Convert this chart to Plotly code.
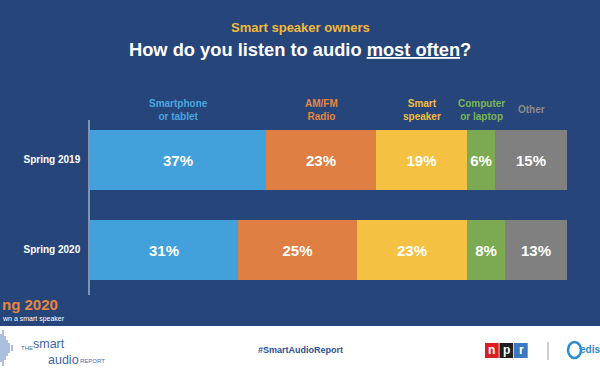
import plotly.graph_objects as go

periods = ["Spring 2019", "Spring 2020"]
categories = ["Smartphone<br>or tablet", "AM/FM<br>Radio", "Smart<br>speaker", "Computer<br>or laptop", "Other"]
values = {
    "Smartphone<br>or tablet": [37, 31],
    "AM/FM<br>Radio": [23, 25],
    "Smart<br>speaker": [19, 23],
    "Computer<br>or laptop": [6, 8],
    "Other": [15, 13],
}
colors = ["#42A0DA", "#E07F43", "#F5C142", "#7CAA52", "#808080"]
header_colors = ["#4AA6E0", "#E8853F", "#F5BE3A", "#7DB653", "#8C8C8C"]

BG = "#26457A"
W, H = 600, 372
FONT = "Liberation Sans, Arial"

def py(px):
    return 1 - px / H

def pxx(px):
    return px / W

fig = go.Figure()
for cat, col in zip(categories, colors):
    vals = values[cat]
    fig.add_trace(go.Bar(
        y=[0, 1], x=vals, orientation="h", width=0.667,
        marker=dict(color=col, line=dict(width=0)),
        text=[f"{v}%" for v in vals], textposition="inside",
        insidetextanchor="middle", textangle=0,
        textfont=dict(family=FONT, size=15, color="white", weight="bold"),
        hoverinfo="skip", showlegend=False,
    ))

def note(xp, yp, text, size, color, xanchor="center"):
    return dict(x=pxx(xp), y=py(yp), xref="paper", yref="paper", text=text,
                showarrow=False, xanchor=xanchor, yanchor="middle",
                font=dict(family=FONT, size=size, color=color))

annotations = []
cum = 0
for cat, hc in zip(categories, header_colors):
    v = values[cat][0]
    annotations.append(dict(
        x=cum + v / 2, xref="x", y=py(110), yref="paper",
        text=f"<b>{cat}</b>", showarrow=False, xanchor="center", yanchor="middle",
        font=dict(family=FONT, size=10, color=hc),
    ))
    cum += v

annotations += [
    note(300, 27, "<b>Smart speaker owners</b>", 13, "#F2B93B"),
    note(300, 49, '<b>How do you listen to audio <span style="text-decoration:underline">most often</span>?</b>',
         18.3, "white"),
    note(0, 304, "<b>ng 2020</b>", 15, "#E8853F", "left"),
    note(0, 319, "wn a smart speaker", 7, "white", "left"),
    note(300, 350, "<b>#SmartAudioReport</b>", 9, "#2D5190"),
    note(19, 348, "THE", 6, "#4A6FAE", "left"),
    note(31, 343.5, "smart", 12.5, "#3F67A8", "left"),
    note(46, 360, "audio", 12.5, "#3F67A8", "left"),
    note(78, 361, "REPORT", 6, "#4A6FAE", "left"),
    note(578, 349, "<b>edis</b>", 10, "#2D8BD0", "left"),
]
for i, letter in enumerate(["n", "p", "r"]):
    annotations.append(note(485 + 14.5 * i + 7, 350, f"<b>{letter}</b>", 12, "white"))

shapes = [
    dict(type="rect", xref="paper", yref="paper", x0=0, x1=1, y0=0, y1=py(326),
         fillcolor="white", line=dict(width=0), layer="below"),
    dict(type="line", xref="paper", yref="paper", x0=pxx(548), x1=pxx(548), y0=py(342), y1=py(360),
         line=dict(color="#9AA0A8", width=1)),
    dict(type="circle", xref="paper", yref="paper", x0=pxx(568), x1=pxx(581), y0=py(358), y1=py(342),
         line=dict(color="#2D8BD0", width=2.5)),
]
for i, c in enumerate(["#D62021", "#231F20", "#3A78C0"]):
    shapes.append(dict(type="rect", xref="paper", yref="paper",
                       x0=pxx(485 + 14.5 * i), x1=pxx(485 + 14.5 * (i + 1) - 0.8),
                       y0=py(358), y1=py(343), fillcolor=c, line=dict(width=0), layer="above"))
for xp, h in [(1, 14), (3, 18), (5, 12), (7, 8), (9, 5), (12, 3)]:
    shapes.append(dict(type="line", xref="paper", yref="paper", x0=pxx(xp), x1=pxx(xp),
                       y0=py(348 - h), y1=py(348 + h), line=dict(color="#5A7FBE", width=1)))

fig.update_layout(
    barmode="stack", bargap=0,
    width=W, height=H, margin=dict(l=0, r=0, t=0, b=0),
    paper_bgcolor=BG, plot_bgcolor=BG,
    xaxis=dict(domain=[90 / W, 567 / W], range=[0, 100], visible=False, fixedrange=True),
    yaxis=dict(domain=[py(295), py(120)], range=[1.5, -0.444], tickvals=[0, 1],
               ticktext=[f"<b>{p}</b>" for p in periods], showgrid=False, zeroline=False,
               showline=True, linecolor="#8193B3", linewidth=1.5,
               ticks="outside", ticklen=6, tickcolor="rgba(0,0,0,0)",
               tickfont=dict(family=FONT, size=10, color="white")),
    annotations=annotations, shapes=shapes,
)

fig.write_html("out.html")
